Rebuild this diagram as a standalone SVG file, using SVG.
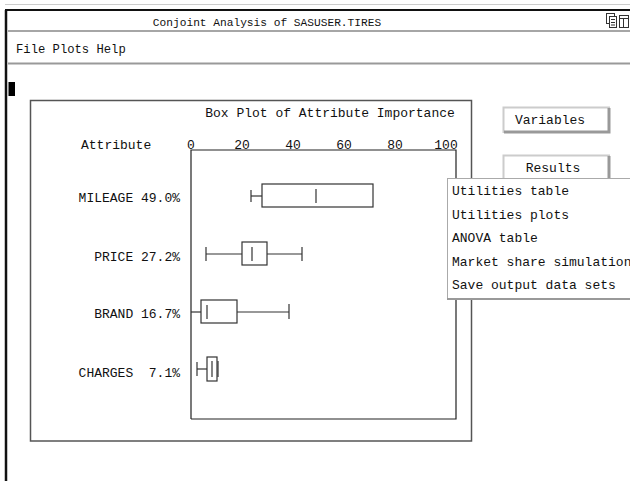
<svg xmlns="http://www.w3.org/2000/svg" width="630" height="481" viewBox="0 0 630 481">
<style>
text{font-family:"Liberation Mono","DejaVu Sans Mono",monospace;fill:#111;}
.t13{font-size:13px;}
.frame{fill:none;stroke:#555;stroke-width:1.5;}
.ax{fill:none;stroke:#222;stroke-width:1.2;}
.bx{fill:#fff;stroke:#333;stroke-width:1.2;}
.wh{stroke:#333;stroke-width:1.2;fill:none;}
</style>
<rect width="630" height="481" fill="#fff"/>
<!-- window chrome -->
<g id="window">
<line x1="5" y1="4.5" x2="630" y2="4.5" stroke="#ccc" stroke-width="1"/>
<line x1="5" y1="10" x2="630" y2="10" stroke="#111" stroke-width="2"/>
<line x1="6" y1="10" x2="6" y2="481" stroke="#111" stroke-width="2.5"/>
<line x1="8" y1="31" x2="630" y2="31" stroke="#888" stroke-width="1.5"/>
<line x1="8" y1="63.5" x2="630" y2="63.5" stroke="#999" stroke-width="2"/>
<text x="267" y="26" font-size="11.2" text-anchor="middle">Conjoint Analysis of SASUSER.TIRES</text>
<g id="icons" fill="none" stroke="#333" stroke-width="1">
<rect x="606.5" y="13.5" width="8" height="10"/>
<rect x="609.5" y="16.5" width="7" height="11" fill="#fff"/>
<line x1="611" y1="19.5" x2="615" y2="19.5"/><line x1="611" y1="22.5" x2="615" y2="22.5"/><line x1="611" y1="25" x2="615" y2="25"/>
<rect x="619.5" y="15.5" width="9" height="12"/>
<line x1="619" y1="18.5" x2="629" y2="18.5"/>
<line x1="623.5" y1="19" x2="623.5" y2="27"/>
</g>
<text x="16" y="53" font-size="12.2">File Plots Help</text>
<rect x="8.5" y="82" width="6.5" height="14" fill="#000"/>
</g>
<!-- plot frames -->
<g id="plot-frame">
<rect x="30.5" y="100.5" width="441" height="340.5" class="frame"/>
<polyline points="191,419 191,150 456,150 456,419 191,419" class="ax"/>
<text x="330" y="117" class="t13" text-anchor="middle">Box Plot of Attribute Importance</text>
<text x="81" y="149" class="t13">Attribute</text>
<g class="t13" text-anchor="middle">
<text x="191" y="149" class="t13">0</text>
<text x="242" y="149" class="t13">20</text>
<text x="293" y="149" class="t13">40</text>
<text x="344" y="149" class="t13">60</text>
<text x="395" y="149" class="t13">80</text>
<text x="446" y="149" class="t13">100</text>
</g>
</g>
<g id="labels" class="t13">
<text x="180" y="202" class="t13" text-anchor="end">MILEAGE 49.0%</text>
<text x="180" y="261" class="t13" text-anchor="end">PRICE 27.2%</text>
<text x="180" y="318" class="t13" text-anchor="end">BRAND 16.7%</text>
<text x="180" y="377" class="t13" text-anchor="end" xml:space="preserve">CHARGES  7.1%</text>
</g>
<g id="box-mileage">
<line x1="251" y1="196" x2="262" y2="196" class="wh"/>
<line x1="251" y1="190" x2="251" y2="202" class="wh"/>
<rect x="262" y="184" width="111" height="23" class="bx"/>
<line x1="316" y1="189" x2="316" y2="203" class="wh"/>
</g>
<g id="box-price">
<line x1="206" y1="254" x2="242" y2="254" class="wh"/>
<line x1="267" y1="254" x2="302" y2="254" class="wh"/>
<line x1="206" y1="247" x2="206" y2="261" class="wh"/>
<line x1="302" y1="247" x2="302" y2="261" class="wh"/>
<rect x="242" y="242" width="25" height="23" class="bx"/>
<line x1="252" y1="247" x2="252" y2="261" class="wh"/>
</g>
<g id="box-brand">
<line x1="191" y1="312" x2="201" y2="312" class="wh"/>
<line x1="237" y1="312" x2="289" y2="312" class="wh"/>
<line x1="289" y1="304" x2="289" y2="319" class="wh"/>
<rect x="201" y="300" width="36" height="23" class="bx"/>
<line x1="207" y1="305" x2="207" y2="319" class="wh"/>
</g>
<g id="box-charges">
<line x1="197" y1="369" x2="207" y2="369" class="wh"/>
<line x1="197" y1="362" x2="197" y2="376" class="wh"/>
<rect x="207" y="357" width="10" height="24" class="bx"/>
<line x1="212" y1="361" x2="212" y2="377" class="wh"/>
<line x1="218" y1="361" x2="218" y2="377" class="wh"/>
</g>
<!-- buttons -->
<g id="btn-variables">
<rect x="503" y="107" width="107" height="26" fill="#fff"/>
<polyline points="503.5,133 503.5,107.5 610,107.5" fill="none" stroke="#ccc" stroke-width="2"/>
<polyline points="504,132 609,132 609,108" fill="none" stroke="#999" stroke-width="3"/>
<text x="550" y="124" class="t13" text-anchor="middle">Variables</text>
</g>
<g id="btn-results">
<rect x="503" y="155" width="107" height="26" fill="#fff"/>
<polyline points="503.5,181 503.5,155.5 610,155.5" fill="none" stroke="#ccc" stroke-width="2"/>
<polyline points="504,180 609,180 609,156" fill="none" stroke="#999" stroke-width="3"/>
<text x="553" y="172" class="t13" text-anchor="middle">Results</text>
</g>
<g id="popup-menu">
<rect x="447.5" y="178.5" width="190" height="120" fill="#fff" stroke="#aaa" stroke-width="1"/>
<line x1="447" y1="299" x2="630" y2="299" stroke="#999" stroke-width="2"/>
<text x="452" y="195" class="t13">Utilities table</text>
<text x="452" y="219" class="t13">Utilities plots</text>
<text x="452" y="242" class="t13">ANOVA table</text>
<text x="452" y="266" class="t13">Market share simulation</text>
<text x="452" y="289" class="t13">Save output data sets</text>
</g>
</svg>
